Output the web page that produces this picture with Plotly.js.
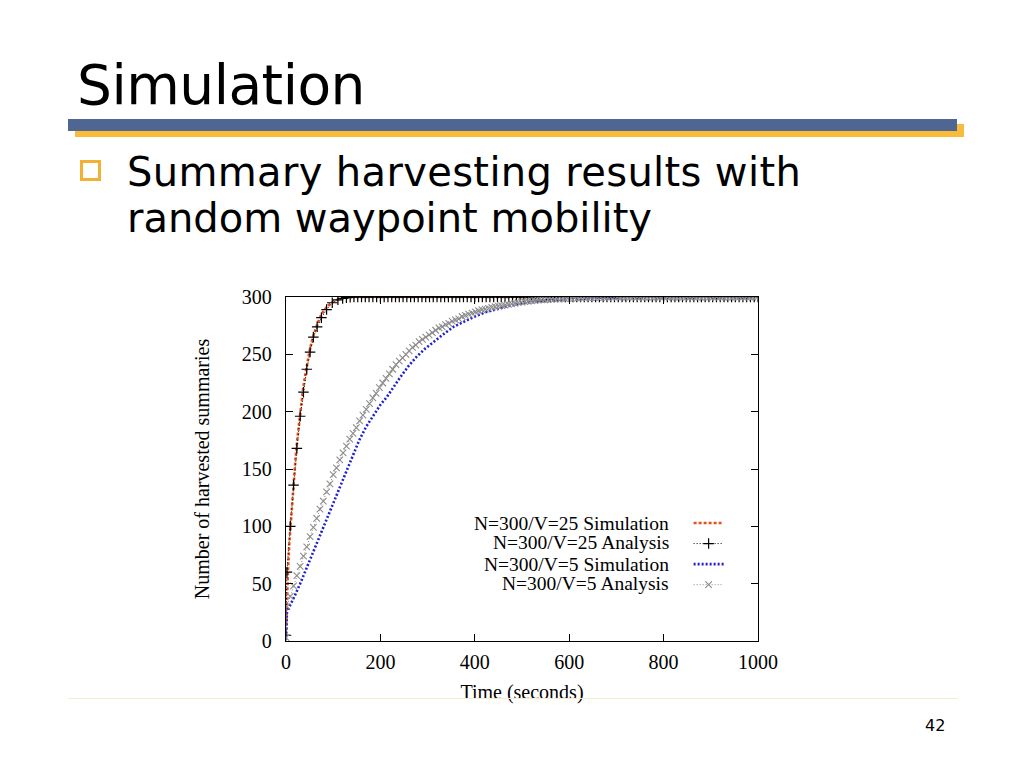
<!DOCTYPE html>
<html>
<head>
<meta charset="utf-8">
<script src="https://cdn.plot.ly/plotly-3.0.1.min.js"></script>
<style>
  html, body { margin: 0; padding: 0; background: #ffffff; }
  #page { position: relative; width: 1024px; height: 768px; overflow: hidden; background: #ffffff; }
  #chart { position: absolute; left: 0; top: 0; width: 1024px; height: 768px; }
  .txt { position: absolute; font-family: "DejaVu Sans", Verdana, sans-serif; color: #000; white-space: nowrap; line-height: 1; }
  #title { left: 77px; top: 58px; font-size: 55px; letter-spacing: -0.5px; }
  #b1 { left: 127px; top: 152px; font-size: 40px; letter-spacing: 0.35px; }
  #b2 { left: 127px; top: 198px; font-size: 40px; letter-spacing: 0px; }
  #pnum { left: 925px; top: 718px; font-size: 16px; }
  #goldbar { position: absolute; left: 75px; top: 124px; width: 889px; height: 13px; background: #f8bb3a; }
  #bluebar { position: absolute; left: 68px; top: 119px; width: 889px; height: 12px; background: #4f6592; }
  #bullet { position: absolute; left: 80px; top: 160px; width: 15px; height: 15px; border: 3px solid #f3b133; }
  #footline { position: absolute; left: 68px; top: 698px; width: 889px; height: 1px; background: #f6eccb; }
</style>
</head>
<body>
<div id="page">
  <div id="chart"></div>
  <div class="txt" id="title">Simulation</div>
  <div id="goldbar"></div>
  <div id="bluebar"></div>
  <div id="bullet"></div>
  <div class="txt" id="b1">Summary harvesting results with</div>
  <div class="txt" id="b2">random waypoint mobility</div>
  <div id="footline"></div>
  <div class="txt" id="pnum">42</div>
</div>
<script>
// ---- data ----
var seriesNames = [
  "N=300/V=25 Simulation",
  "N=300/V=25 Analysis",
  "N=300/V=5 Simulation",
  "N=300/V=5 Analysis"
];

var simV25Time = [0, 2, 4, 7, 10, 13, 16, 20, 24, 28, 32, 36, 40, 45, 50, 55, 60, 66, 72, 80, 88, 96, 105, 115, 125, 140, 200, 300, 400, 500, 600, 700, 800, 900, 1000];
var simV25Count = [5, 35, 60, 85, 103, 120, 138, 158, 176, 192, 206, 219, 230, 243, 253, 262, 269, 276, 282, 288, 292, 295, 297, 298.5, 299.3, 300, 300, 300, 300, 300, 300, 300, 300, 300, 300];

var anaV25Time = [0, 2, 9, 16, 23, 30, 37, 44, 51, 58, 66, 75, 86, 98, 110, 120, 128, 136,
  144, 152, 160, 168, 176, 184, 192, 200, 208, 216, 224, 232, 240, 248, 256, 264, 272, 280,
  288, 296, 304, 312, 320, 328, 336, 344, 352, 360, 368, 376, 384, 392, 400, 408, 416, 424,
  432, 440, 448, 456, 464, 472, 480, 488, 496, 504, 512, 520, 528, 536, 544, 552, 560, 568,
  576, 584, 592, 600, 608, 616, 624, 632, 640, 648, 656, 664, 672, 680, 688, 696, 704, 712,
  720, 728, 736, 744, 752, 760, 768, 776, 784, 792, 800, 808, 816, 824, 832, 840, 848, 856,
  864, 872, 880, 888, 896, 904, 912, 920, 928, 936, 944, 952, 960, 968, 976, 984, 992, 1000];
var anaV25Count = [5, 60, 100, 136, 168, 196, 217, 237, 252, 265, 274, 282, 289, 295, 297.5, 298.8, 299.4, 299.8,
  300, 300, 300, 300, 300, 300, 300, 300, 300, 300, 300, 300, 300, 300, 300, 300, 300, 300,
  300, 300, 300, 300, 300, 300, 300, 300, 300, 300, 300, 300, 300, 300, 300, 300, 300, 300,
  300, 300, 300, 300, 300, 300, 300, 300, 300, 300, 300, 300, 300, 300, 300, 300, 300, 300,
  300, 300, 300, 300, 300, 300, 300, 300, 300, 300, 300, 300, 300, 300, 300, 300, 300, 300,
  300, 300, 300, 300, 300, 300, 300, 300, 300, 300, 300, 300, 300, 300, 300, 300, 300, 300,
  300, 300, 300, 300, 300, 300, 300, 300, 300, 300, 300, 300, 300, 300, 300, 300, 300, 300];

var simV5Time = [0, 1, 2, 5, 10, 18, 30, 40, 50, 60, 70, 80, 90, 100, 110, 120, 130, 140, 155, 170, 186, 200, 214, 228, 242, 260, 277, 295, 313, 335, 355, 380, 400, 425, 450, 475, 500, 550, 600, 650, 700, 800, 900, 1000];
var simV5Count = [3, 18, 25, 28, 32, 39, 50, 60, 70, 80, 90, 100, 110, 120, 130, 140, 150, 161, 175, 187, 197, 206, 213, 222, 230, 240, 248, 255, 261, 268, 274, 279, 283, 287, 290, 292.5, 294.5, 297, 298.5, 299.3, 299.7, 300, 300, 300];

var anaV5Time = [0, 2, 9, 16, 23, 30, 37, 44, 51, 58, 65, 72, 79, 86, 93, 100, 107, 114, 121, 128,
  135, 142, 149, 156, 163, 170, 177, 184, 191, 198, 205, 212, 219, 226, 233, 240, 247, 254, 261, 268,
  275, 282, 289, 296, 303, 310, 317, 324, 331, 338, 345, 352, 359, 366, 373, 380, 387, 394, 401, 408,
  415, 422, 429, 436, 443, 450, 457, 464, 471, 478, 485, 492, 499, 506, 513, 520, 527, 534, 541, 548,
  555, 562, 569, 576, 583, 590, 597, 604, 611, 618, 625, 632, 639, 646, 653, 660, 667, 674, 681, 688,
  695, 702, 709, 716, 723, 730, 737, 744, 751, 758, 765, 772, 779, 786, 793, 800, 807, 814, 821, 828,
  835, 842, 849, 856, 863, 870, 877, 884, 891, 898, 905, 912, 919, 926, 933, 940, 947, 954, 961, 968,
  975, 982, 989, 996];
var anaV5Count = [3, 30, 39, 48, 57, 65, 74, 82, 91, 99, 107, 115, 122, 130, 137, 145, 151, 158, 164, 170,
  176, 181, 186, 192, 197, 202, 207, 212, 216, 221, 225, 229, 233, 237, 241, 244, 247, 250, 253, 256,
  258, 261, 263, 265, 267, 269, 271, 273, 274, 276, 277, 279, 280, 281, 283, 284, 285, 286, 287, 288,
  289, 289.5, 290, 291, 291.5, 292, 292.5, 293, 293.5, 294, 294.5, 295, 295.5, 296, 296.3, 296.6, 296.9, 297.2, 297.4, 297.6,
  297.8, 298, 298.2, 298.4, 298.5, 298.7, 298.8, 298.9, 299, 299.1, 299.2, 299.3, 299.4, 299.5, 299.5, 299.6, 299.6, 299.7, 299.7, 299.8,
  299.8, 300, 300, 300, 300, 300, 300, 300, 300, 300, 300, 300, 300, 300, 300, 300, 300, 300, 300, 300,
  300, 300, 300, 300, 300, 300, 300, 300, 300, 300, 300, 300, 300, 300, 300, 300, 300, 300, 300, 300,
  300, 300, 300, 300];

var xTickVals = [0, 200, 400, 600, 800, 1000];
var yTickVals = [0, 50, 100, 150, 200, 250, 300];
var xTitle = "Time (seconds)";
var yTitle = "Number of harvested summaries";

// ---- chart ----
var serif = "Liberation Serif, Times New Roman, serif";

var traces = [
  { x: simV25Time, y: simV25Count, name: " ", mode: "lines",
    line: { color: "#e4501e", width: 2.6, dash: "3px,2px" } },
  { x: anaV25Time, y: anaV25Count, name: " ", mode: "lines+markers",
    line: { color: "#000000", width: 1, dash: "1px,2px" },
    marker: { symbol: "cross-thin-open", size: 7.5, line: { color: "#000000", width: 1.2 } } },
  { x: simV5Time, y: simV5Count, name: " ", mode: "lines",
    line: { color: "#1e1ed2", width: 2.6, dash: "2px,2px" } },
  { x: anaV5Time, y: anaV5Count, name: " ", mode: "lines+markers",
    line: { color: "#8c8c8c", width: 1, dash: "1px,2px" },
    marker: { symbol: "x-thin-open", size: 6.5, line: { color: "#8c8c8c", width: 1.1 } } }
];

var legendRowsY = [0.343, 0.2849, 0.2238, 0.1657];
var annotations = seriesNames.map(function (n, i) {
  return { xref: "paper", yref: "paper", x: 0.8138, y: legendRowsY[i],
    xanchor: "right", yanchor: "middle", showarrow: false, text: n, borderpad: 0,
    font: { family: serif, size: 19.5, color: "#000" } };
});

var layout = {
  width: 1024, height: 768,
  margin: { l: 285.5, r: 266, t: 297, b: 127, pad: 0 },
  paper_bgcolor: "rgba(0,0,0,0)",
  plot_bgcolor: "rgba(0,0,0,0)",
  showlegend: true,
  legend: { x: 0.853, xanchor: "left", y: 0.3874, yanchor: "top",
    bgcolor: "rgba(0,0,0,0)", borderwidth: 0, font: { family: serif, size: 13.5 },
    tracegroupgap: 0 },
  annotations: annotations,
  xaxis: {
    range: [0, 1000], tickvals: xTickVals, ticktext: xTickVals.map(String),
    ticks: "inside", ticklen: 7, tickwidth: 1, tickcolor: "#000",
    showline: true, linecolor: "#000", linewidth: 1.2, mirror: "ticks",
    showgrid: false, zeroline: false, ticklabelstandoff: 3,
    tickfont: { family: serif, size: 20, color: "#000" },
    title: { text: xTitle, font: { family: serif, size: 20, color: "#000" }, standoff: 12 }
  },
  yaxis: {
    range: [0, 300], tickvals: yTickVals, ticktext: yTickVals.map(String),
    ticks: "inside", ticklen: 7, tickwidth: 1, tickcolor: "#000",
    showline: true, linecolor: "#000", linewidth: 1.2, mirror: "ticks",
    showgrid: false, zeroline: false, ticklabelstandoff: 9,
    tickfont: { family: serif, size: 20, color: "#000" },
    title: { text: yTitle, font: { family: serif, size: 20, color: "#000" }, standoff: 26 }
  }
};

Plotly.newPlot("chart", traces, layout, { staticPlot: true, displayModeBar: false });
</script>
</body>
</html>
